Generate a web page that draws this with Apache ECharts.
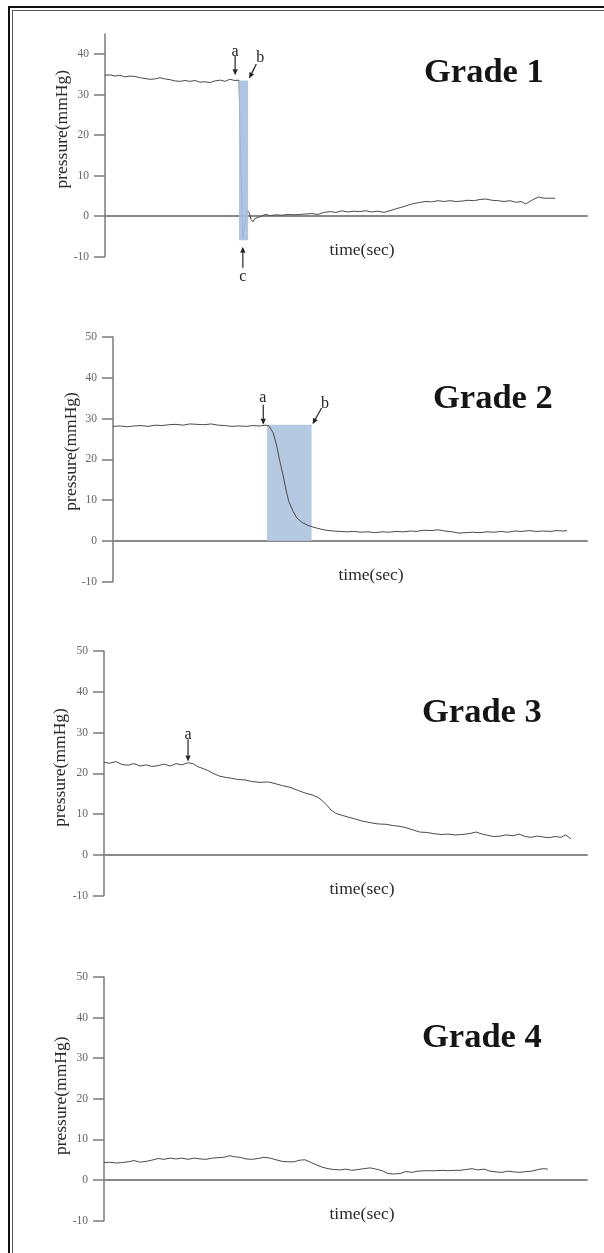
<!DOCTYPE html>
<html><head><meta charset="utf-8">
<script src="https://cdn.jsdelivr.net/npm/echarts@6/dist/echarts.min.js"></script>
<style>
html,body{margin:0;padding:0;background:#fff;}
#wrap{position:relative;width:604px;height:1253px;overflow:hidden;background:#fff;}
#chart{position:absolute;left:0;top:0;width:604px;height:1253px;}
.frameA{position:absolute;left:8px;top:6px;right:-10px;bottom:-10px;border-left:2px solid #111;border-top:2px solid #111;pointer-events:none;}
.frameB{position:absolute;left:12px;top:10px;right:-10px;bottom:-10px;border-left:1px solid #555;border-top:1px solid #555;pointer-events:none;}
</style></head><body>
<div id="wrap"><div id="chart"></div><div class="frameA"></div><div class="frameB"></div></div>
<script>
// ---------------- data ----------------
const panelTitles = ['Grade 1', 'Grade 2', 'Grade 3', 'Grade 4'];
const yAxisName = 'pressure(mmHg)';
const xAxisName = 'time(sec)';
const yTickLabels1 = [-10, 0, 10, 20, 30, 40];
const yTickLabels = [-10, 0, 10, 20, 30, 40, 50];
const yMin = -10;
const yMax = [45, 50, 50, 50];

const g1Time = [0,1.0,2.1,3.1,4.1,5.2,6.2,7.3,8.3,9.3,10.4,11.4,12.4,13.5,14.5,15.6,16.6,17.6,18.7,19.7,20.7,21.8,22.8,23.9,24.9,25.9,27.0,27.8,28.2,28.6,29.0,29.5,29.9,30.3,30.7,31.1,31.5,31.9,32.6,33.4,34.2,35.5,36.7,38.0,39.2,40.5,41.7,42.9,44.2,45.4,46.7,47.9,49.2,50.4,51.7,52.9,54.1,55.4,56.6,57.9,59.1,60.4,61.6,62.9,64.1,65.4,66.6,67.8,69.1,70.3,71.6,72.8,74.1,75.3,76.6,77.8,79.0,80.3,81.5,82.8,84.0,85.3,86.3,87.3,88.4,89.2,90.0,91.1,92.3,93.4];
const g1Pressure = [34.8,34.9,34.6,34.8,34.4,34.6,34.5,34.2,34.0,33.8,33.9,34.2,33.9,33.7,33.4,33.3,33.5,33.3,33.5,33.1,33.2,33.0,33.4,33.6,33.3,33.8,33.5,33.6,12.0,-5.5,-2.0,1.5,0.8,-0.8,-1.4,-0.6,-1.0,-0.3,0.1,0.4,0.1,0.3,0.2,0.4,0.3,0.4,0.5,0.6,0.4,0.9,1.1,0.9,1.3,1.0,1.2,1.1,1.3,1.0,1.2,0.9,1.3,1.8,2.2,2.7,3.1,3.4,3.6,3.5,3.8,3.6,3.8,3.6,3.7,3.9,3.8,4.1,4.2,3.9,3.8,3.6,3.8,3.4,3.6,3.0,3.8,4.3,4.7,4.4,4.4,4.4];

const g2Time = [0,1.5,3.0,4.4,5.9,7.4,8.9,10.3,11.8,13.3,14.8,16.2,17.7,19.2,20.7,22.2,23.6,25.1,26.6,28.1,29.5,31.0,32.3,32.9,33.8,34.6,35.2,35.9,36.5,37.1,38.0,38.8,39.9,41.1,42.4,43.7,44.9,46.4,47.9,49.4,50.8,52.3,53.8,55.3,56.8,58.2,59.7,61.2,62.7,64.1,65.6,67.1,68.6,70.0,71.5,73.0,74.5,75.9,77.4,78.9,80.4,81.9,83.3,84.8,86.3,87.8,89.2,90.7,92.2,93.7,94.9,95.8];
const g2Pressure = [28.1,28.2,28.0,28.2,28.3,28.1,28.4,28.3,28.5,28.6,28.4,28.7,28.6,28.5,28.7,28.4,28.3,28.1,28.2,28.1,28.3,28.2,28.4,28.2,26.5,23.0,19.5,16.0,12.5,9.6,7.2,5.6,4.5,3.8,3.3,2.9,2.6,2.4,2.3,2.2,2.3,2.1,2.2,2.0,2.2,2.1,2.3,2.2,2.4,2.3,2.6,2.5,2.7,2.4,2.2,1.9,2.0,2.1,2.0,2.2,2.1,2.3,2.1,2.4,2.3,2.5,2.3,2.4,2.3,2.5,2.4,2.5];

const g3Time = [0,1.2,2.5,3.7,5.0,6.2,7.5,8.7,9.9,11.2,12.4,13.7,14.9,16.1,17.4,18.4,19.5,20.5,21.5,22.8,24.0,25.3,26.5,27.7,29.2,30.6,32.3,34.0,35.4,36.9,38.5,40.2,41.6,43.1,44.3,45.3,46.2,47.0,48.0,49.3,50.5,52.0,53.4,55.1,56.7,58.4,59.8,61.3,62.7,64.0,65.4,66.9,68.3,69.8,71.2,72.7,74.1,75.6,77.0,78.3,79.5,80.7,82.0,83.2,84.7,85.9,87.2,88.4,89.6,90.9,92.1,93.4,94.6,95.6,96.7];
const g3Pressure = [22.7,22.5,22.9,22.2,22.0,22.4,21.8,22.1,21.7,21.9,22.3,21.8,22.4,22.1,22.6,22.4,21.6,21.2,20.7,19.9,19.3,19.0,18.8,18.5,18.4,18.0,17.8,17.9,17.5,17.0,16.6,15.8,15.2,14.7,14.1,13.2,12.1,11.0,10.2,9.7,9.3,8.8,8.3,7.9,7.6,7.5,7.2,7.0,6.6,6.1,5.6,5.5,5.2,5.0,5.1,4.9,5.0,5.2,5.6,5.1,4.8,4.5,4.6,4.9,4.7,5.1,4.5,4.3,4.6,4.4,4.2,4.5,4.3,4.9,3.9];

const g4Time = [0,1.2,2.5,3.7,5.0,6.2,7.5,8.7,9.9,11.2,12.4,13.7,14.9,16.1,17.4,18.6,19.9,21.1,22.4,23.6,24.8,26.1,27.1,28.2,29.4,30.6,31.9,33.1,34.4,35.6,36.9,38.1,39.3,40.6,41.6,42.7,43.9,45.1,46.4,47.6,48.9,50.1,51.3,52.6,53.8,55.1,56.3,57.6,58.8,60.0,61.3,62.5,63.8,65.0,66.3,67.5,68.7,70.0,71.2,72.5,73.7,74.9,76.2,77.4,78.7,79.9,81.2,82.4,83.6,84.9,86.1,87.4,88.6,89.9,90.9,91.9];
const g4Pressure = [4.3,4.4,4.2,4.3,4.5,4.8,4.4,4.6,4.9,5.3,5.1,5.4,5.2,5.4,5.1,5.4,5.2,5.1,5.4,5.5,5.6,6.0,5.7,5.6,5.2,5.1,5.3,5.6,5.4,5.0,4.6,4.5,4.5,4.9,5.0,4.4,3.8,3.2,2.8,2.6,2.5,2.7,2.4,2.6,2.8,3.0,2.7,2.3,1.6,1.5,1.6,2.1,1.9,2.2,2.3,2.3,2.3,2.4,2.3,2.4,2.4,2.6,2.8,2.5,2.7,2.2,2.0,1.9,2.2,2.0,1.9,2.1,2.2,2.6,2.8,2.7];

// shaded intervals (panel index, time range, pressure range)
const bandPanel = [0, 1];
const bandTime = [[27.8, 29.7], [32.5, 41.9]];
const bandPressure = [[-6, 33.5], [0, 28.5]];

// annotation arrows (panel, letter, tail, head, letter position) in time/pressure units
const arrowPanel = [0, 0, 0, 1, 1, 2];
const arrowLetter = ['a', 'b', 'c', 'a', 'b', 'a'];
const arrowTail = [[27.0, 39.6], [31.4, 37.6], [28.6, -12.8], [31.7, 33.4], [44.0, 32.6], [17.4, 28.4]];
const arrowHead = [[27.0, 34.8], [29.9, 34.0], [28.6, -7.6], [31.7, 28.5], [42.1, 28.6], [17.4, 22.9]];
const arrowText = [[27.0, 40.6], [32.2, 39.2], [28.6, -15.0], [31.6, 35.0], [44.7, 33.7], [17.4, 29.5]];

// ---------------- layout & style ----------------
const FONT = 'Liberation Serif';
const gridBoxes = [
  {left: 105, right: 17, top: 34, height: 222.5},
  {left: 113, right: 17, top: 337.2, height: 244.3},
  {left: 104, right: 17, top: 651.2, height: 244.4},
  {left: 104, right: 17, top: 976.9, height: 243.8}
];
const titlePos = [{left: 424, top: 56}, {left: 433, top: 382}, {left: 422, top: 696}, {left: 422, top: 1021}];
const yNameShift = [32, 16, 12, 6];
const xNameShift = [32, 42, 33, 33];
const yNameGap = [34, 32.5, 34.5, 33.5];
const series = [[g1Time, g1Pressure], [g2Time, g2Pressure], [g3Time, g3Pressure], [g4Time, g4Pressure]];

const chart = echarts.init(document.getElementById('chart'), null, {renderer: 'canvas'});
const option = {
  animation: false,
  backgroundColor: 'transparent',
  title: panelTitles.map((t, i) => ({
    text: t, left: titlePos[i].left, top: titlePos[i].top, padding: 0,
    textStyle: {fontFamily: FONT, fontSize: 34.5, fontWeight: 'bold', color: '#151515', lineHeight: 34}
  })),
  grid: gridBoxes.map(b => Object.assign({}, b)),
  xAxis: gridBoxes.map((b, i) => ({
    type: 'value', gridIndex: i, min: 0, max: 100,
    axisLine: {show: true, onZero: true, lineStyle: {color: '#8a8a8a', width: 2}},
    axisTick: {show: false}, axisLabel: {show: false}, splitLine: {show: false},
    name: xAxisName, nameLocation: 'middle', nameGap: -15,
    nameTextStyle: {fontFamily: FONT, fontSize: 17.5, color: '#2a2a2a', padding: [0, 0, 0, xNameShift[i]]}
  })),
  yAxis: gridBoxes.map((b, i) => {
    const ticks = i === 0 ? yTickLabels1 : yTickLabels;
    return {
      type: 'value', gridIndex: i, min: yMin, max: yMax[i], interval: 10,
      axisLine: {show: true, onZero: false, lineStyle: {color: '#7a7a7a', width: 1.5}},
      axisTick: {show: true, length: 11, customValues: ticks, lineStyle: {color: '#7a7a7a', width: 1.5}},
      axisLabel: {show: true, customValues: ticks, margin: 16, fontFamily: FONT, fontSize: 11.5, color: '#666'},
      splitLine: {show: false},
      name: yAxisName, nameLocation: 'middle', nameGap: yNameGap[i], nameRotate: 90, nameMoveOverlap: false,
      nameTextStyle: {fontFamily: FONT, fontSize: 17.5, color: '#2a2a2a', padding: [0, 0, 0, yNameShift[i]]}
    };
  }),
  series: series.map((s, i) => {
    const bi = bandPanel.indexOf(i);
    const obj = {
      type: 'line', xAxisIndex: i, yAxisIndex: i, silent: true,
      data: s[0].map((t, k) => [t, s[1][k]]),
      showSymbol: false, symbol: 'none',
      lineStyle: {color: '#4a4a4a', width: 1}, z: 2
    };
    if (bi >= 0) {
      obj.markArea = {
        silent: true, z: i === 0 ? 3 : 1,
        itemStyle: {color: i === 0 ? '#a9c0e1' : '#b6c9e3', opacity: i === 0 ? 0.92 : 1},
        data: [[{coord: [bandTime[bi][0], bandPressure[bi][0]]}, {coord: [bandTime[bi][1], bandPressure[bi][1]]}]]
      };
    }
    return obj;
  })
};
chart.setOption(option);

// annotations: arrows + letters, positioned through the axes
const graphics = [];
arrowPanel.forEach((p, i) => {
  const tail = chart.convertToPixel({gridIndex: p}, arrowTail[i]);
  const head = chart.convertToPixel({gridIndex: p}, arrowHead[i]);
  const txt = chart.convertToPixel({gridIndex: p}, arrowText[i]);
  const dx = head[0] - tail[0], dy = head[1] - tail[1];
  const len = Math.sqrt(dx * dx + dy * dy);
  const ux = dx / len, uy = dy / len;
  const hl = 6, hw = 2.6;
  const bx = head[0] - ux * hl, by = head[1] - uy * hl;
  graphics.push({
    type: 'line', silent: true, z: 10,
    shape: {x1: tail[0], y1: tail[1], x2: bx, y2: by},
    style: {stroke: '#222', lineWidth: 1.2}
  });
  graphics.push({
    type: 'polygon', silent: true, z: 10,
    shape: {points: [[head[0], head[1]], [bx - uy * hw, by + ux * hw], [bx + uy * hw, by - ux * hw]]},
    style: {fill: '#222'}
  });
  graphics.push({
    type: 'text', silent: true, z: 10,
    style: {text: arrowLetter[i], x: txt[0], y: txt[1], align: 'center', verticalAlign: 'middle',
            font: '16px "Liberation Serif"', fill: '#222'}
  });
});
chart.setOption({graphic: graphics});
</script>
</body></html>
